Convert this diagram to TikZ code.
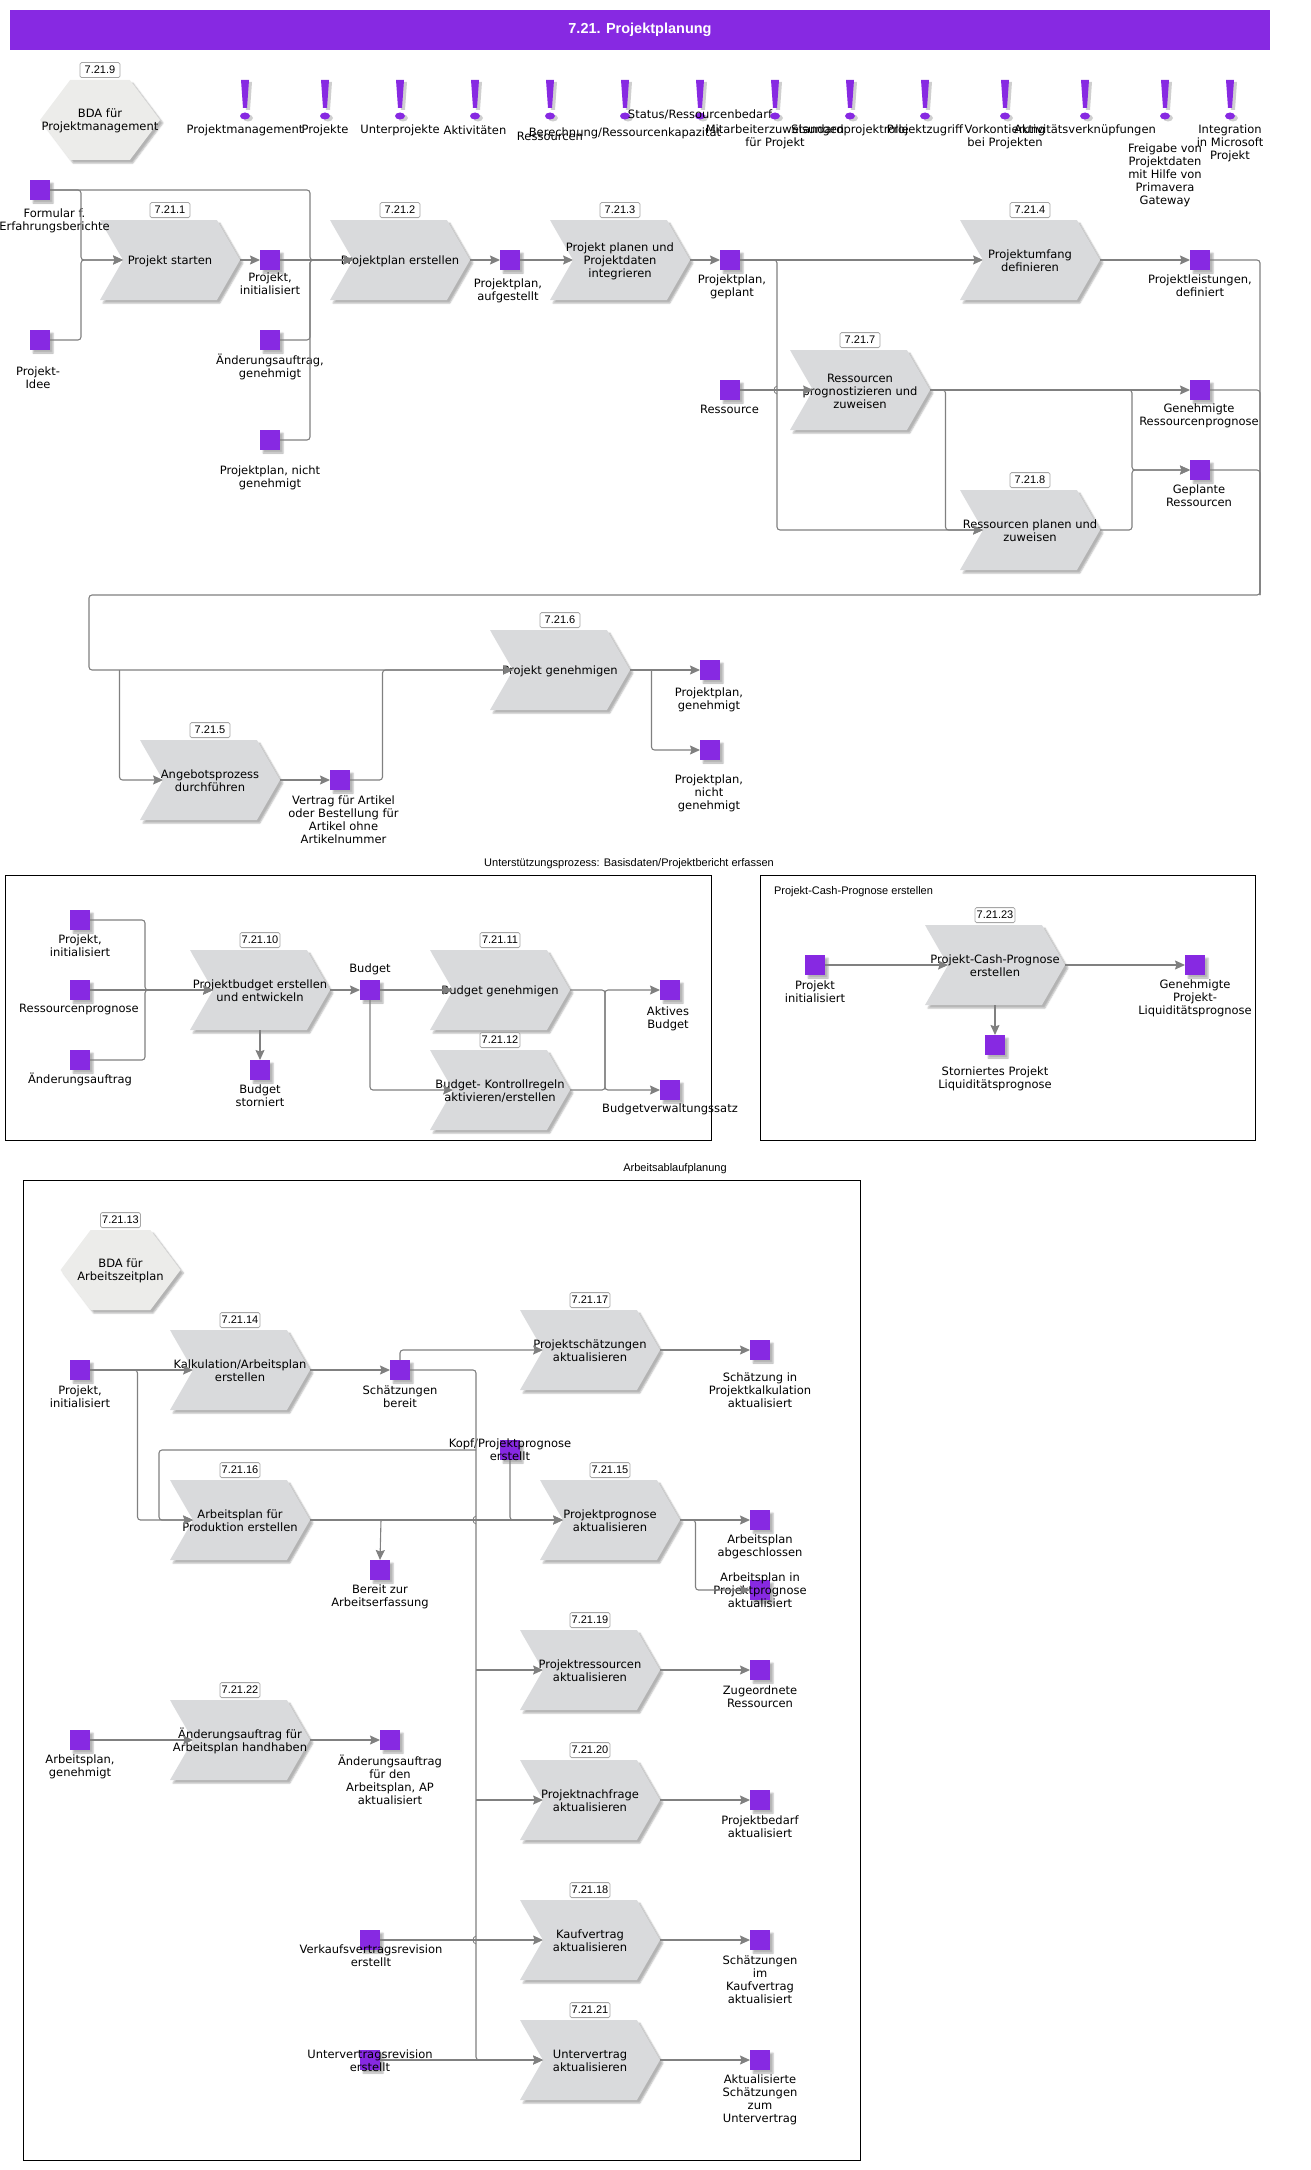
\documentclass[tikz,border=0pt]{standalone}
\usepackage{fontspec}
\setmainfont{DejaVu Sans}
\newfontfamily\arialfont{Liberation Sans}
\usetikzlibrary{positioning}
\usetikzlibrary{shapes.symbols}
\usetikzlibrary{shadows.blur}
\usetikzlibrary{arrows.meta}
\definecolor{violettone}{HTML}{8729E2}
\definecolor{procgray}{HTML}{D9DADC}
\definecolor{hexgray}{HTML}{ECECEA}
\definecolor{linegray}{HTML}{808080}
\definecolor{shadowgray}{HTML}{CFCFCF}
\tikzset{
  schatten/.style = {blur shadow = {shadow xshift = 3pt, shadow yshift = -3pt, shadow blur steps = 4, shadow blur radius = 1.5pt, shadow opacity = 30}},
  proc/.style = {signal, signal to = east, signal from = west, signal pointer angle = 120, inner sep = 0pt, outer sep = 0pt, minimum width = 140pt, minimum height = 80pt, fill = procgray, schatten},
  hexa/.style = {signal, signal to = east and west, signal pointer angle = 106, inner sep = 0pt, outer sep = 0pt, minimum width = 120pt, minimum height = 80pt, fill = hexgray, schatten},
  quad/.style = {rectangle, inner sep = 0pt, outer sep = 0pt, minimum size = 20pt, fill = violettone, schatten},
  txt/.style = {align = center, inner sep = 0pt, font = \fontsize{11.5}{13}\selectfont},
  grp/.style = {align = center, inner sep = 0pt, font = \arialfont\fontsize{11}{13}\selectfont},
  badge/.style = {draw = gray!70, fill = white, rounded corners = 1.5pt, line width = .8pt, inner sep = 0pt, minimum height = 15pt, minimum width = 40pt, font = \arialfont\fontsize{11}{13}\selectfont},
  flow/.style = {draw = linegray, line width = 1.1pt, rounded corners = 3pt},
  arr/.style = {flow, -{Stealth[length = 10pt, width = 9pt, inset = 1.5pt]}},
  group box/.style = {draw = black, line width = 1pt},
  excl/.pic = {
    \fill[shadowgray] (-1, -18) -- (7, -18) -- (5, 10) -- (1, 10) -- cycle;
    \fill[shadowgray] (3, 18) ellipse [x radius = 5, y radius = 3.5];
    \fill[violettone] (-4, -20) -- (4, -20) -- (2, 8) -- (-2, 8) -- cycle;
    \fill[violettone] (0, 16) ellipse [x radius = 5, y radius = 3.5];
  }
}
\begin{document}
\begin{tikzpicture}[x = 1pt, y = -1pt]
\useasboundingbox (0, 0) rectangle (1310, 2170);
\node[fill = violettone, minimum width = 1260pt, minimum height = 40pt, inner sep = 0pt, text = white, font = \arialfont\bfseries\fontsize{14.5}{16}\selectfont] (titel) at (640, 30) {7.21. Projektplanung};
% group frames
\draw[group box] (5.5, 875) rectangle (711, 1140);
\draw[group box] (760, 875) rectangle (1255.5, 1140);
\draw[group box] (23, 1180) rectangle (860, 2160);
\node[grp] (unterst) at (629, 863.5) {Unterstützungsprozess: Basisdaten/Projektbericht erfassen};
\node[grp] (cash) at (853.5, 892) {Projekt-Cash-Prognose erstellen};
\node[grp] (ablauf) at (675, 1169) {Arbeitsablaufplanung};
% info marks
\foreach \name/\x/\ly/\txt in {m1/245/130/Projektmanagement, m2/325/130/Projekte, m3/400/130/Unterprojekte, m4/475/130/Aktivitäten, m5/550/136/Ressourcen, m6/625/133.5/{Berechnung/Ressourcenkapazität}, m7/700/114.5/{Status/Ressourcenbedarf}, m8/775/136.5/{Mitarbeiterzuweisungen\\für Projekt}, m9/850/130/Standardprojektrolle, m10/925/130/Projektzugriff, m11/1005/136.5/{Vorkontierung\\bei Projekten}, m12/1085/130/Aktivitätsverknüpfungen, m13/1165/175/{Freigabe von\\Projektdaten\\mit Hilfe von\\Primavera\\Gateway}, m14/1230/143/{Integration\\in Microsoft\\Projekt}}
{
  \pic at (\x, 100) {excl};
  \node[txt] (\name) at (\x, \ly) {\txt};
}
% hexagons
\foreach \name/\x/\y/\nr/\txt in {h1/100/120/7.21.9/{BDA für\\Projektmanagement}, h2/120.5/1270/7.21.13/{BDA für\\Arbeitszeitplan}}
{
  \node[hexa] (\name) at (\x, \y) {};
  \node[txt, yshift = -1pt] (\name t) at (\name) {\txt};
  \node[badge, above = 2pt of \name.north] (\name n) {\nr};
}
% processes
\foreach \name/\x/\y/\nr/\txt in {p1/170/260/7.21.1/{Projekt starten}, p2/400/260/7.21.2/{Projektplan erstellen}, p3/620/260/7.21.3/{Projekt planen und\\Projektdaten\\integrieren}, p4/1030/260/7.21.4/{Projektumfang\\definieren}, p7/860/390/7.21.7/{Ressourcen\\prognostizieren und\\zuweisen}, p8/1030/530/7.21.8/{Ressourcen planen und\\zuweisen}, p6/560/670/7.21.6/{Projekt genehmigen}, p5/210/780/7.21.5/{Angebotsprozess\\durchführen}, p10/260/990/7.21.10/{Projektbudget erstellen\\und entwickeln}, p11/500/990/7.21.11/{Budget genehmigen}, p12/500/1090/7.21.12/{Budget- Kontrollregeln\\aktivieren/erstellen}, p23/995/965/7.21.23/{Projekt-Cash-Prognose\\erstellen}, p14/240/1370/7.21.14/{Kalkulation/Arbeitsplan\\erstellen}, p17/590/1350/7.21.17/{Projektschätzungen\\aktualisieren}, p16/240/1520/7.21.16/{Arbeitsplan für\\Produktion erstellen}, p15/610/1520/7.21.15/{Projektprognose\\aktualisieren}, p19/590/1670/7.21.19/{Projektressourcen\\aktualisieren}, p22/240/1740/7.21.22/{Änderungsauftrag für\\Arbeitsplan handhaben}, p20/590/1800/7.21.20/{Projektnachfrage\\aktualisieren}, p18/590/1940/7.21.18/{Kaufvertrag\\aktualisieren}, p21/590/2060/7.21.21/{Untervertrag\\aktualisieren}}
{
  \node[proc] (\name) at (\x, \y) {};
  \node[txt, yshift = -1pt] (\name t) at (\name) {\txt};
  \node[badge, above = 2pt of \name.north] (\name n) {\nr};
}
% events
\foreach \name/\x/\y/\lx/\ly/\txt in {form/40/190/54.5/220.5/{Formular f.\\Erfahrungsberichte}, idee/40/340/38/377.5/{Projekt-\\Idee}, init/270/260/270/283.5/{Projekt,\\initialisiert}, aend/270/340/270/366.5/{Änderungsauftrag,\\genehmigt}, nicht/270/440/270/477.5/{Projektplan, nicht\\genehmigt}, aufg/510/260/508/290.5/{Projektplan,\\aufgestellt}, gepl/730/260/732/287/{Projektplan,\\geplant}, ress/730/390/729.5/409/{Ressource}, leist/1200/260/1200/286/{Projektleistungen,\\definiert}, gprog/1200/390/1199/415.5/{Genehmigte\\Ressourcenprognose}, gress/1200/470/1199/495.5/{Geplante\\Ressourcen}, genh/710/670/709/699.5/{Projektplan,\\genehmigt}, ngen/710/750/709/793.5/{Projektplan,\\nicht\\genehmigt}, vert/340/780/343.5/820/{Vertrag für Artikel\\oder Bestellung für\\Artikel ohne\\Artikelnummer}, binit/80/920/80/945.5/{Projekt,\\initialisiert}, bprog/80/990/79/1009/{Ressourcenprognose}, baend/80/1060/80/1079/{Änderungsauftrag}, budg/370/990/370/969/{Budget}, bstor/260/1070/260/1095.5/{Budget\\storniert}, aktiv/670/990/668/1018.5/{Aktives\\Budget}, bsatz/670/1090/670/1109/{Budgetverwaltungssatz}, cinit/815/965/815/991.5/{Projekt\\initialisiert}, cgen/1195/965/1195/998/{Genehmigte\\Projekt-\\Liquiditätsprognose}, cstor/995/1045/995/1078.5/{Storniertes Projekt\\Liquiditätsprognose}, ainit/80/1370/80/1396.5/{Projekt,\\initialisiert}, schb/400/1370/400/1396.5/{Schätzungen\\bereit}, skalk/760/1350/760/1390/{Schätzung in\\Projektkalkulation\\aktualisiert}, kopf/510/1450/510/1450/{Kopf/Projektprognose\\erstellt}, arbz/380/1570/380/1596.5/{Bereit zur\\Arbeitserfassung}, aabg/760/1520/760/1546.5/{Arbeitsplan\\abgeschlossen}, aprog/760/1590/760/1590/{Arbeitsplan in\\Projektprognose\\aktualisiert}, zug/760/1670/760/1696.5/{Zugeordnete\\Ressourcen}, agen/80/1740/80/1766.5/{Arbeitsplan,\\genehmigt}, aaep/390/1740/390/1780/{Änderungsauftrag\\für den\\Arbeitsplan, AP\\aktualisiert}, pbed/760/1800/760/1826.5/{Projektbedarf\\aktualisiert}, vkrev/370/1940/371/1955.5/{Verkaufsvertragsrevision\\erstellt}, skauf/760/1940/760/1980/{Schätzungen\\im\\Kaufvertrag\\aktualisiert}, uvrev/370/2060/370/2060.5/{Untervertragsrevision\\erstellt}, suv/760/2060/760/2100/{Aktualisierte\\Schätzungen\\zum\\Untervertrag}}
{
  \node[quad] (\name) at (\x, \y) {};
  \node[txt] (\name t) at (\lx, \ly) {\txt};
}
% connectors top
\coordinate (j1) at (81, 260);
\coordinate (j2) at (310, 260);
\coordinate (j3) at (777, 530);
\coordinate (j4) at (945.5, 530);
\coordinate (j5) at (1132, 470);
\coordinate (r1) at (1260, 595);
\coordinate (l1) at (89, 595);
\coordinate (l2) at (89, 670);
\coordinate (j6) at (119.5, 670);
\coordinate (j7) at (382.5, 670);
\coordinate (j8) at (651.5, 670);
\draw[arr] (form.east) -| (j1) -- (p1.west);
\draw[arr] (idee.east) -| (j1) -- (p1.west);
\draw[arr] (p1.east) -- (init.west);
\draw[arr] (init.east) -- (p2.west);
\draw[arr] (form.east) -| (j2) -- (p2.west);
\draw[arr] (aend.east) -| (j2) -- (p2.west);
\draw[arr] (nicht.east) -| (j2) -- (p2.west);
\draw[arr] (p2.east) -- (aufg.west);
\draw[arr] (aufg.east) -- (p3.west);
\draw[arr] (p3.east) -- (gepl.west);
\draw[arr] (gepl.east) -- (p4.west);
\draw[arr] (gepl.east) -| (j3) -- (p8.west);
\draw[arr] (p4.east) -- (leist.west);
\draw[arr] (ress.east) -- (p7.west);
\draw[arr] (p7.east) -- (gprog.west);
\draw[arr] (p7.east) -| (j4) -- (p8.west);
\draw[arr] (p7.east) -| (j5) -- (gress.west);
\draw[arr] (p8.east) -| (j5) -- (gress.west);
\draw[arr] (leist.east) -| (r1) -- (l1) -- (l2) -- (p6.west);
\draw[flow] (gprog.east) -| (r1);
\draw[flow] (gress.east) -| (r1);
\draw[arr] (j6) |- (p5.west);
\draw[arr] (p5.east) -- (vert.west);
\draw[arr] (vert.east) -| (j7) -- (p6.west);
\draw[arr] (p6.east) -- (genh.west);
\draw[arr] (j8) |- (ngen.west);
% connectors budget
\coordinate (j9) at (145, 990);
\coordinate (j10) at (605, 990);
\coordinate (j11) at (605, 1090);
\draw[arr] (binit.east) -| (j9) -- (p10.west);
\draw[arr] (bprog.east) -- (p10.west);
\draw[arr] (baend.east) -| (j9) -- (p10.west);
\draw[arr] (p10.east) -- (budg.west);
\draw[arr] (p10.south) -- (bstor.north);
\draw[arr] (budg.east) -- (p11.west);
\draw[arr] (budg.south) |- (p12.west);
\draw[arr] (p11.east) -| (j11) -- (bsatz.west);
\draw[arr] (p12.east) -| (j10) -- (aktiv.west);
% connectors cash
\draw[arr] (cinit.east) -- (p23.west);
\draw[arr] (p23.east) -- (cgen.west);
\draw[arr] (p23.south) -- (cstor.north);
% connectors arbeitsablauf
\coordinate (j12) at (137.5, 1520);
\coordinate (b1) at (476, 1450);
\coordinate (b2) at (476, 1670);
\coordinate (b3) at (476, 1800);
\coordinate (b4) at (476, 2060);
\coordinate (k1) at (159, 1450);
\coordinate (k2) at (159, 1520);
\coordinate (j14) at (381, 1520);
\coordinate (j16) at (695.5, 1590);
\draw[arr] (ainit.east) -- (p14.west);
\draw[arr] (ainit.east) -| (j12) -- (p16.west);
\draw[arr] (p14.east) -- (schb.west);
\draw[arr] (schb.north) |- (p17.west);
\draw[arr] (p17.east) -- (skalk.west);
\draw[arr] (schb.east) -| (b4) -- (p21.west);
\draw[arr] (b1) -- (k1) -- (k2) -- (p16.west);
\draw[arr] (p16.east) -- (p15.west);
\draw[arr] (j14) -- (arbz.north);
\draw[arr] (kopf.south) |- (p15.west);
\draw[arr] (p15.east) -- (aabg.west);
\draw[arr] (p15.east) -| (j16) -- (aprog.west);
\draw[arr] (b2) -- (p19.west);
\draw[arr] (p19.east) -- (zug.west);
\draw[arr] (b3) -- (p20.west);
\draw[arr] (p20.east) -- (pbed.west);
\draw[arr] (agen.east) -- (p22.west);
\draw[arr] (p22.east) -- (aaep.west);
\draw[arr] (vkrev.east) -- (p18.west);
\draw[arr] (p18.east) -- (skauf.west);
\draw[arr] (uvrev.east) -- (p21.west);
\draw[arr] (p21.east) -- (suv.west);
% line bridges
\foreach \cx/\cy in {777/390, 476/1520, 476/1940}
\draw[flow, line width = .8pt] (\cx, \cy - 4) .. controls (\cx - 4, \cy - 3) and (\cx - 4, \cy + 3) .. (\cx, \cy + 4);
\end{tikzpicture}
\end{document}
